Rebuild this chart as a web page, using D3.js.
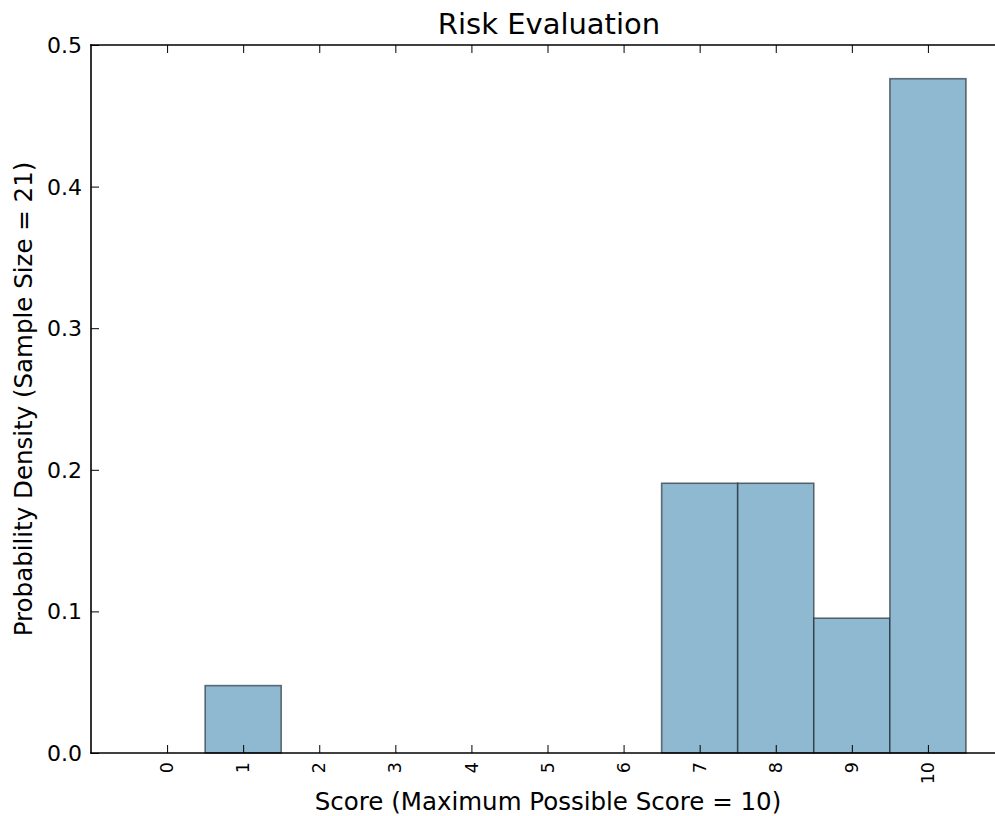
<!DOCTYPE html>
<html>
<head>
<meta charset="utf-8">
<script src="https://cdn.jsdelivr.net/npm/d3@7"></script>
<style>
  body { margin: 0; background: #fff; overflow: hidden; }
  svg { display: block; }
  text { font-family: "DejaVu Sans", sans-serif; fill: #000; }
</style>
</head>
<body>
<svg id="chart"></svg>
<script>
// histogram bins (score) and their density
const scores = [0, 1, 2, 3, 4, 5, 6, 7, 8, 9, 10];
const density = [0, 0.0476, 0, 0, 0, 0, 0, 0.1905, 0.1905, 0.0952, 0.4762];
const yTicks = [0.0, 0.1, 0.2, 0.3, 0.4, 0.5];

const svgWidth = 995;
const svgHeight = 816;
const plotLeft = 91, plotTop = 45, plotBottom = 753;

const svg = d3.select('#chart')
  .attr("width", svgWidth)
  .attr("height", svgHeight);

// x runs to 11, which lies just past the right edge of the picture
const xScale = d3.scaleLinear().domain([-1, 11]).range([plotLeft, 1004]);
const yScale = d3.scaleLinear().domain([0, 0.5]).range([plotBottom, plotTop]);

// bars
svg.selectAll(".bar")
  .data(scores)
  .enter()
  .append("rect")
  .attr("class", "bar")
  .attr("x", (d, i) => xScale(d - 0.5))
  .attr("y", (d, i) => yScale(density[i]))
  .attr("width", xScale(1) - xScale(0))
  .attr("height", (d, i) => yScale(0) - yScale(density[i]))
  .attr("fill", "#8fb8d1")
  .attr("stroke", "#1f2a33")
  .attr("stroke-opacity", 0.65)
  .attr("stroke-width", 1.6);

// inside ticks, mirrored on top
const tickLen = 8;
const xAxisB = d3.axisBottom(xScale).tickValues(scores).tickSize(-tickLen).tickFormat("");
const xAxisT = d3.axisTop(xScale).tickValues(scores).tickSize(-tickLen).tickFormat("");
const yAxisL = d3.axisLeft(yScale).tickValues(yTicks).tickSize(-tickLen).tickFormat("");

svg.append("g").attr("transform", `translate(0, ${plotBottom})`).call(xAxisB);
svg.append("g").attr("transform", `translate(0, ${plotTop})`).call(xAxisT);
svg.append("g").attr("transform", `translate(${plotLeft}, 0)`).call(yAxisL);

svg.selectAll(".domain").remove();
svg.selectAll(".tick line").attr("stroke", "#000").attr("stroke-width", 1);

// spines (right one is outside the picture)
const spines = [
  [plotLeft, plotTop, svgWidth, plotTop],
  [plotLeft, plotBottom, svgWidth, plotBottom],
  [plotLeft, plotTop, plotLeft, plotBottom]
];
svg.selectAll(".spine")
  .data(spines)
  .enter()
  .append("line")
  .attr("x1", d => d[0]).attr("y1", d => d[1])
  .attr("x2", d => d[2]).attr("y2", d => d[3])
  .attr("stroke", "#000").attr("stroke-width", 1.6)
  .attr("stroke-linecap", "square");

// tick labels
svg.selectAll(".xlab")
  .data(scores)
  .enter()
  .append("text")
  .attr("transform", d => `translate(${xScale(d)}, 762) rotate(-90)`)
  .attr("text-anchor", "end")
  .attr("dy", "0.35em")
  .style("font-size", "17.5px")
  .text(d => d);

svg.selectAll(".ylab")
  .data(yTicks)
  .enter()
  .append("text")
  .attr("x", plotLeft - 9)
  .attr("y", d => yScale(d))
  .attr("text-anchor", "end")
  .attr("dy", "0.36em")
  .style("font-size", "22px")
  .text(d => d.toFixed(1));

// titles
svg.append("text")
  .attr("x", 549).attr("y", 34)
  .attr("text-anchor", "middle")
  .style("font-size", "29px")
  .text("Risk Evaluation");

svg.append("text")
  .attr("x", 548).attr("y", 810)
  .attr("text-anchor", "middle")
  .style("font-size", "24.5px")
  .text("Score (Maximum Possible Score = 10)");

svg.append("text")
  .attr("transform", "translate(32, 399) rotate(-90)")
  .attr("text-anchor", "middle")
  .style("font-size", "24.5px")
  .text("Probability Density (Sample Size = 21)");
</script>
</body>
</html>
